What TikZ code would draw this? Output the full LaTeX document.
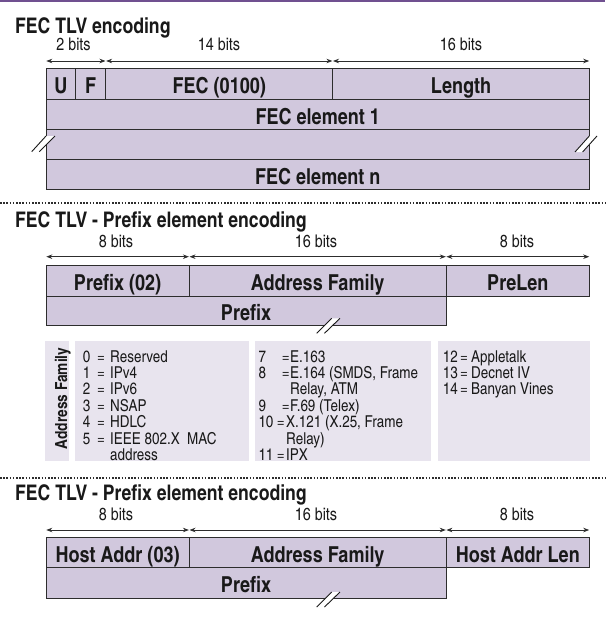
\documentclass[tikz,border=0pt]{standalone}
\usepackage{fontspec}
\setmainfont{texgyreheroscn}[Extension=.otf, UprightFont=*-regular, BoldFont=*-bold]
\usetikzlibrary{arrows.meta}
\definecolor{boxfill}{RGB}{209,200,221}
\definecolor{infofill}{RGB}{232,228,238}
\definecolor{boxline}{RGB}{45,45,45}
\definecolor{topline}{RGB}{112,80,144}
\definecolor{inkc}{RGB}{25,25,25}
\begin{document}
\begin{tikzpicture}[x=1pt,y=-1pt,
  field/.style={draw=boxline, fill=boxfill, line width=1pt, inner sep=0pt,
    anchor=north west, font=\bfseries\fontsize{22}{26}\selectfont, text=inkc,
    text height=19pt, text depth=0pt},
  infobox/.style={fill=infofill, inner sep=0pt, anchor=north west},
  title/.style={anchor=base west, inner sep=0pt, font=\bfseries\fontsize{21.5}{25}\selectfont, text=inkc},
  bits/.style={anchor=base, inner sep=0pt, font=\fontsize{17.5}{20}\selectfont, text=inkc},
  dim/.style={draw=boxline, line width=0.8pt, {Stealth[length=6pt,width=4.5pt]}-{Stealth[length=6pt,width=4.5pt]}, shorten <=0.8pt, shorten >=0.8pt},
  infotext/.style={anchor=base west, inner sep=0pt, font=\fontsize{16.4}{15}\selectfont, text=inkc},
  slash/.style={draw=inkc, line width=0.9pt},
  gap/.style={fill=white, draw=none},
  sep/.style={draw=boxline, line width=1.8pt, dash pattern=on 1.6pt off 1.6pt}
]
\useasboundingbox (0,0) rectangle (605,618);
\fill[topline] (0,0) rectangle (605,1.8);

% ---------- Section 1 ----------
\node[title] (t1) at (15,33.3) {FEC TLV encoding};
\node[field, minimum width=29.7pt, minimum height=30.7pt] (u) at (45.5,68.3) {U};
\node[field, minimum width=30.1pt, minimum height=30.7pt] (f) at (75.2,68.3) {F};
\node[field, minimum width=226.9pt, minimum height=30.7pt] (fec) at (105.3,68.3) {FEC (0100)};
\node[field, minimum width=256.8pt, minimum height=30.7pt] (len) at (332.2,68.3) {Length};
\node[field, minimum width=543.5pt, minimum height=30pt] (e1) at (45.5,99) {FEC element 1};
\node[field, minimum width=543.5pt, minimum height=30pt] (eb) at (45.5,129) {};
\node[field, minimum width=543.5pt, minimum height=30pt] (en) at (45.5,159) {FEC element n};

\node[bits] (b1a) at (73.5,50.7) {2 bits};
\node[bits] (b1b) at (219,50.7) {14 bits};
\node[bits] (b1c) at (461,50.7) {16 bits};
\draw[dim] ([yshift=7.3pt]u.north west) -- ([yshift=7.3pt]f.north east);
\draw[dim] ([yshift=7.3pt]fec.north west) -- ([yshift=7.3pt]fec.north east);
\draw[dim] ([yshift=7.3pt]len.north west) -- ([yshift=7.3pt]len.north east);

% break marks
\fill[gap] (31.7,151.7) -- (46,136) -- (55,136) -- (39.3,151.7) -- cycle;
\draw[slash] (31.7,151.7) -- (46,136);
\draw[slash] (39.3,151.7) -- (55,136);
\fill[gap] (575,152) -- (589.3,136) -- (597,136) -- (582.6,152) -- cycle;
\draw[slash] (575,152) -- (589.3,136);
\draw[slash] (582.6,152) -- (597,136);

\draw[sep] (0,203.3) -- (605,203.3);

% ---------- Section 2 ----------
\node[title] (t2) at (15,227.3) {FEC TLV - Prefix element encoding};
\node[field, minimum width=143.2pt, minimum height=30.4pt] (p02) at (45.5,265.3) {Prefix (02)};
\node[field, minimum width=256.9pt, minimum height=30.4pt] (af2) at (188.7,265.3) {Address Family};
\node[field, minimum width=143.4pt, minimum height=30.4pt] (pl) at (445.6,265.3) {PreLen};
\node[field, minimum width=400.1pt, minimum height=29.3pt] (pf2) at (45.5,295.7) {Prefix};

\node[bits] (b2a) at (116,247) {8 bits};
\node[bits] (b2b) at (316,247) {16 bits};
\node[bits] (b2c) at (517,247) {8 bits};
\draw[dim] ([yshift=8.6pt]p02.north west) -- ([yshift=8.6pt]p02.north east);
\draw[dim] ([yshift=8.6pt]af2.north west) -- ([yshift=8.6pt]af2.north east);
\draw[dim] ([yshift=8.6pt]pl.north west) -- ([yshift=8.6pt]pl.north east);

\fill[gap] (316.7,333.3) -- (331.7,318.3) -- (340,318.3) -- (324.5,333.3) -- cycle;
\draw[slash] (316.7,333.3) -- (331.7,318.3);
\draw[slash] (324.5,333.3) -- (340,318.3);

% info boxes
\node[infobox, minimum width=23.3pt, minimum height=120pt] (afl) at (45,341) {};
\node[anchor=base, rotate=90, inner sep=0pt, font=\bfseries\fontsize{16.7}{19}\selectfont, text=inkc] (aft) at (67,398.5) {Address Family};
\node[infobox, minimum width=174.5pt, minimum height=120pt] (ib1) at (74.5,341) {};
\node[infobox, minimum width=176pt, minimum height=120pt] (ib2) at (255,341) {};
\node[infobox, minimum width=151.5pt, minimum height=120pt] (ib3) at (438,341) {};

\node[infotext] (it1) at (82.7,362) {\begin{tabular}[t]{@{}l@{}}
\makebox[14.3pt][l]{0}\makebox[13pt][l]{=}Reserved\\
\makebox[14.3pt][l]{1}\makebox[13pt][l]{=}IPv4\\
\makebox[14.3pt][l]{2}\makebox[13pt][l]{=}IPv6\\
\makebox[14.3pt][l]{3}\makebox[13pt][l]{=}NSAP\\
\makebox[14.3pt][l]{4}\makebox[13pt][l]{=}HDLC\\
\makebox[14.3pt][l]{5}\makebox[13pt][l]{=}IEEE 802.X\ \ MAC\\
\hspace*{27.3pt}address
\end{tabular}};
\node[infotext] (it2) at (258.3,362) {\begin{tabular}[t]{@{}l@{}}
\makebox[23.4pt][l]{7}\makebox[8.3pt][l]{=}E.163\\
\makebox[23.4pt][l]{8}\makebox[8.3pt][l]{=}E.164 (SMDS, Frame\\
\hspace*{31.7pt}Relay, ATM\\
\makebox[23.4pt][l]{9}\makebox[8.3pt][l]{=}F.69 (Telex)\\
\makebox[18.4pt][l]{10}\makebox[9.3pt][l]{=}X.121 (X.25, Frame\\
\hspace*{27.7pt}Relay)\\
\makebox[18.4pt][l]{11}\makebox[9.3pt][l]{=}IPX
\end{tabular}};
\node[infotext] (it3) at (442.7,362) {\begin{tabular}[t]{@{}l@{}}
\makebox[17.3pt][l]{12}\makebox[11pt][l]{=}Appletalk\\
\makebox[17.3pt][l]{13}\makebox[11pt][l]{=}Decnet IV\\
\makebox[17.3pt][l]{14}\makebox[11pt][l]{=}Banyan Vines
\end{tabular}};

\draw[sep] (0,478.3) -- (605,478.3);

% ---------- Section 3 ----------
\node[title] (t3) at (15,500) {FEC TLV - Prefix element encoding};
\node[field, minimum width=143.2pt, minimum height=30pt] (h03) at (45.5,537.3) {Host Addr (03)};
\node[field, minimum width=256.9pt, minimum height=30pt] (af3) at (188.7,537.3) {Address Family};
\node[field, minimum width=143.4pt, minimum height=30pt] (hl) at (445.6,537.3) {Host Addr Len};
\node[field, minimum width=400.1pt, minimum height=30.4pt] (pf3) at (45.5,567.3) {Prefix};

\node[bits] (b3a) at (116,520) {8 bits};
\node[bits] (b3b) at (316,520) {16 bits};
\node[bits] (b3c) at (517,520) {8 bits};
\draw[dim] ([yshift=7.3pt]h03.north west) -- ([yshift=7.3pt]h03.north east);
\draw[dim] ([yshift=7.3pt]af3.north west) -- ([yshift=7.3pt]af3.north east);
\draw[dim] ([yshift=7.3pt]hl.north west) -- ([yshift=7.3pt]hl.north east);

\fill[gap] (316.7,607) -- (331.7,592) -- (340,592) -- (324.5,607) -- cycle;
\draw[slash] (316.7,607) -- (331.7,592);
\draw[slash] (324.5,607) -- (340,592);
\end{tikzpicture}
\end{document}
